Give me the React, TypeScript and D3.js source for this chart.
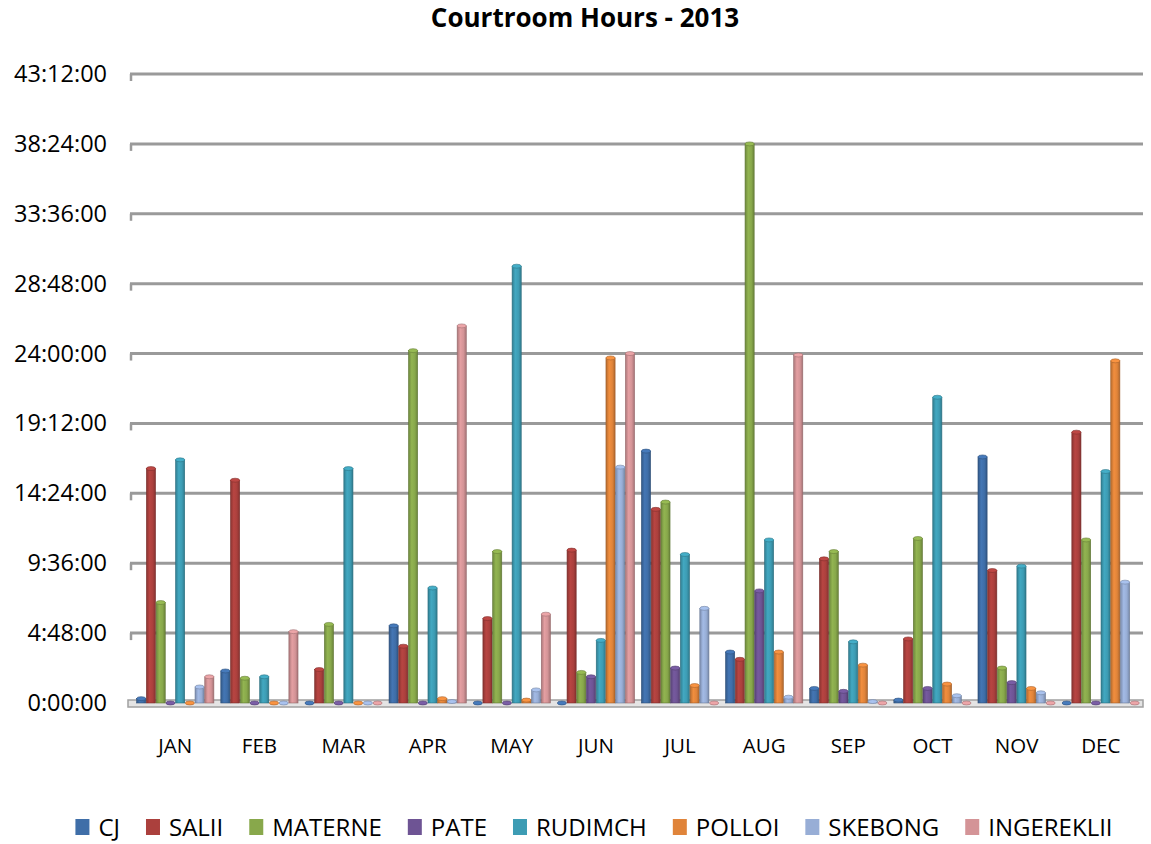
import React, { useEffect, useRef } from "react";
import * as d3 from "d3";

const months = ["JAN", "FEB", "MAR", "APR", "MAY", "JUN", "JUL", "AUG", "SEP", "OCT", "NOV", "DEC"];
const seriesNames = ["CJ", "SALII", "MATERNE", "PATE", "RUDIMCH", "POLLOI", "SKEBONG", "INGEREKLII"];
const seriesColors = ["#3f6ea8", "#ab403d", "#88a84b", "#6e5494", "#3d9cb4", "#e0843a", "#98aed6", "#d49497"];

// hours per month
const cjHours = [0.3, 2.2, 0, 5.3, 0, 0, 17.3, 3.5, 1.0, 0.2, 16.9, 0];
const saliiHours = [16.1, 15.3, 2.3, 3.9, 5.8, 10.5, 13.3, 3.0, 9.9, 4.4, 9.1, 18.6];
const materneHours = [6.9, 1.7, 5.4, 24.2, 10.4, 2.1, 13.8, 38.4, 10.4, 11.3, 2.4, 11.2];
const pateHours = [0, 0, 0, 0, 0, 1.8, 2.4, 7.7, 0.8, 1.0, 1.4, 0];
const rudimchHours = [16.7, 1.8, 16.1, 7.9, 30.0, 4.3, 10.2, 11.2, 4.2, 21.0, 9.4, 15.9];
const polloiHours = [0, 0, 0, 0.3, 0.2, 23.7, 1.2, 3.5, 2.6, 1.3, 1.0, 23.5];
const skebongHours = [1.1, 0, 0, 0.1, 0.9, 16.2, 6.5, 0.4, 0.1, 0.5, 0.7, 8.3];
const ingerekliiHours = [1.8, 4.9, 0, 25.9, 6.1, 24.0, 0, 23.9, 0, 0, 0, 0];

const allSeries = [cjHours, saliiHours, materneHours, pateHours, rudimchHours, polloiHours, skebongHours, ingerekliiHours];
const yTickHours = [0, 4.8, 9.6, 14.4, 19.2, 24, 28.8, 33.6, 38.4, 43.2];

function fmtHours(h: number): string {
  const totalMin = Math.round(h * 60);
  const hh = Math.floor(totalMin / 60);
  const mm = totalMin % 60;
  return `${hh}:${String(mm).padStart(2, "0")}:00`;
}

const W = 1151;
const H = 844;
const FONT = "'Open Sans', 'Liberation Sans', sans-serif";

export default function App() {
  const ref = useRef<SVGSVGElement>(null);

  useEffect(() => {
    const svg = d3.select(ref.current);
    svg.selectAll("*").remove();

    const x0 = d3.scaleBand<string>().domain(months).range([133, 1143]).paddingInner(0.075).paddingOuter(0.04);
    const x1 = d3.scaleBand<string>().domain(seriesNames).range([0, x0.bandwidth()]).padding(0);
    const y = d3.scaleLinear().domain([0, 43.2]).range([703, 74]);

    const defs = svg.append("defs");
    seriesColors.forEach((c, i) => {
      const g = defs.append("linearGradient").attr("id", `grad${i}`).attr("x1", "0").attr("x2", "1").attr("y1", "0").attr("y2", "0");
      const base = d3.color(c)!;
      g.append("stop").attr("offset", "0%").attr("stop-color", base.darker(0.6).toString());
      g.append("stop").attr("offset", "35%").attr("stop-color", base.brighter(0.2).toString());
      g.append("stop").attr("offset", "70%").attr("stop-color", base.toString());
      g.append("stop").attr("offset", "100%").attr("stop-color", base.darker(0.7).toString());
    });

    // title
    svg.append("text").attr("x", 585).attr("y", 27).attr("text-anchor", "middle")
      .attr("font-family", FONT).attr("font-weight", "bold").attr("font-size", 26).attr("fill", "#000")
      .text("Courtroom Hours - 2013");

    // floor
    svg.append("rect").attr("x", 128).attr("y", y(0) - 3).attr("width", 1143 - 128).attr("height", 7)
      .attr("fill", "#e4e4e4").attr("stroke", "#a0a0a0").attr("stroke-width", 1.5);

    // gridlines
    const grid = svg.append("g");
    yTickHours.forEach((t) => {
      if (t === 0) return;
      grid.append("line").attr("x1", 130).attr("x2", 1143).attr("y1", y(t)).attr("y2", y(t))
        .attr("stroke", "#9a9a9a").attr("stroke-width", 3);
      grid.append("line").attr("x1", 131).attr("x2", 131).attr("y1", y(t)).attr("y2", y(t) + 7)
        .attr("stroke", "#9a9a9a").attr("stroke-width", 2.5);
    });

    // y labels
    svg.append("g").selectAll("text").data(yTickHours).join("text")
      .attr("x", 107).attr("y", (d) => y(d) + 8).attr("text-anchor", "end")
      .attr("font-family", FONT).attr("font-size", 23.5).attr("fill", "#000")
      .text((d) => fmtHours(d));

    // bars
    const groups = svg.append("g").selectAll("g").data(months).join("g")
      .attr("transform", (m) => `translate(${x0(m)},0)`);
    groups.each(function (m, mi) {
      const g = d3.select(this);
      seriesNames.forEach((s, si) => {
        const v = allSeries[si][mi];
        const bx = x1(s)! + 0.3;
        const bw = x1.bandwidth() - 0.6;
        const top = y(v);
        const base = y(0);
        const col = d3.color(seriesColors[si])!;
        if (base - top > 0.5) {
          g.append("rect").attr("x", bx).attr("y", top).attr("width", bw).attr("height", base - top)
            .attr("fill", `url(#grad${si})`).attr("stroke", col.darker(1).toString())
            .attr("stroke-width", 0.6);
        }
        g.append("ellipse").attr("cx", bx + bw / 2).attr("cy", top).attr("rx", bw / 2).attr("ry", 2)
          .attr("fill", col.brighter(0.3).toString())
          .attr("stroke", col.darker(0.8).toString()).attr("stroke-width", 0.6);
      });
    });

    // month labels
    svg.append("g").selectAll("text").data(months).join("text")
      .attr("x", (m) => x0(m)! + x0.bandwidth() / 2).attr("y", 753).attr("text-anchor", "middle")
      .attr("font-family", FONT).attr("font-size", 20.5).attr("fill", "#000")
      .text((m) => m);

    // legend
    const legend = svg.append("g");
    const items = seriesNames.map((s, i) => {
      const it = legend.append("g");
      it.append("rect").attr("x", 0).attr("y", -17).attr("width", 14).attr("height", 16).attr("fill", seriesColors[i]);
      const t = it.append("text").attr("x", 23).attr("y", 0).attr("font-family", FONT).attr("font-size", 24)
        .attr("fill", "#000").text(s);
      const w = 23 + (t.node() as SVGTextElement).getComputedTextLength();
      return { it, w };
    });
    const gap = 26;
    const total = d3.sum(items, (d) => d.w) + gap * (items.length - 1);
    let cx = 594 - total / 2;
    items.forEach(({ it, w }) => {
      it.attr("transform", `translate(${cx},836)`);
      cx += w + gap;
    });
  }, []);

  return (
    <svg
      ref={ref}
      width={W}
      height={H}
      style={{ display: "block", position: "absolute", left: 0, top: 0, background: "#fff" }}
    />
  );
}
